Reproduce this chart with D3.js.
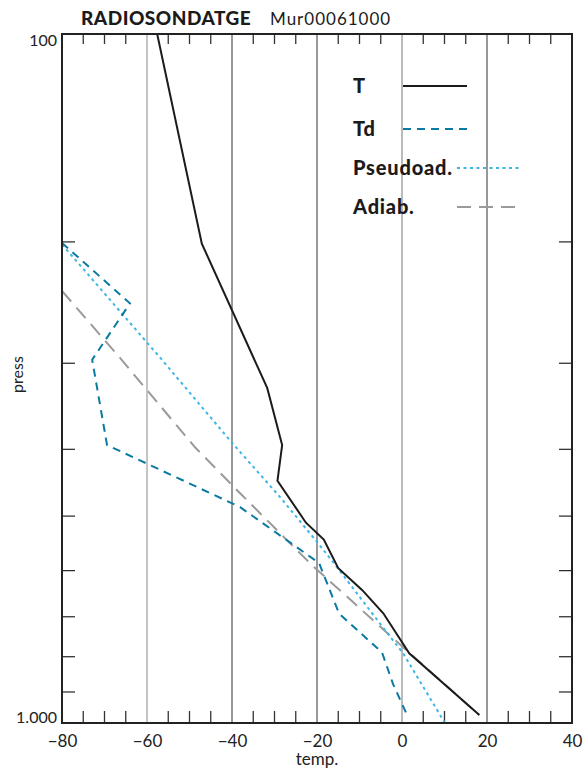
<!DOCTYPE html>
<html><head><meta charset="utf-8">
<script src="https://cdn.jsdelivr.net/npm/d3@7"></script>
<style>body{margin:0;background:#fff}svg{display:block}</style>
</head><body>
<svg id="c" width="588" height="769"></svg>
<script>
// ---- data ----
const title = "RADIOSONDATGE";
const station = "Mur00061000";
const tempTicks = [-80, -60, -40, -20, 0, 20, 40];
const tempMinor = [-75,-70,-65,-55,-50,-45,-35,-30,-25,-15,-10,-5,5,10,15,25,30,35];
const gridTemps = [-60, -40, -20, 0, 20];
const pressTicks = [200, 300, 400, 500, 600, 700, 800, 900];
const pressLabels = [{p:100, t:"100"}, {p:1000, t:"1.000"}];

// T (solid)
const tPress = [100, 201.5, 326.6, 395, 445, 512, 541.6, 596, 641, 693, 792, 974];
const tTemp  = [-57.6, -47.1, -31.7, -28.2, -29.3, -22.6, -18.4, -15.0, -9.4, -4.4, 1.7, 18.2];
// Td (dashed)
const tdPress = [201, 246, 297, 395, 486, 586, 694, 790, 878, 968];
const tdTemp  = [-80, -64, -72.9, -69.4, -38.1, -19.5, -14.8, -4.7, -2.1, 1.0];
// Pseudoadiabat (dotted)
const psPress = [202, 295, 392, 470, 546, 594, 740, 791, 1000];
const psTemp  = [-80, -56.9, -40, -28.7, -20, -15.3, -3.5, 0.2, 10.1];
// Dry adiabat (long dash)
const adPress = [236, 295, 398, 464, 590, 656, 776, 974];
const adTemp  = [-80, -66.4, -48.7, -38.1, -21.2, -12.9, 0.2, 18.2];

const legendItems = [
  {name:"T", key:"T"}, {name:"Td", key:"Td"},
  {name:"Pseudoad.", key:"PS"}, {name:"Adiab.", key:"AD"}
];

// ---- styles ----
const styles = {
  T:  {stroke:"#1b1b1b", dash:null,   w:2},
  Td: {stroke:"#0a7aa3", dash:"8,6",  w:2},
  PS: {stroke:"#3db6e4", dash:"3,3.5",w:2},
  AD: {stroke:"#9a9a9a", dash:"14,8", w:2}
};
const gridColor = {"-60":"#8a8a8a", "-40":"#333", "-20":"#333", "0":"#777", "20":"#333"};
const FONT = "Lato, 'Open Sans', sans-serif";

const L = 62, R = 572, T = 34, B = 723;
const svg = d3.select("#c");
const x = d3.scaleLinear().domain([-80, 40]).range([L, R]);
const y = d3.scaleLog().domain([100, 1000]).range([T, B]);

svg.append("clipPath").attr("id","clip").append("rect")
  .attr("x",L).attr("y",T).attr("width",R-L).attr("height",B-T);

// gridlines
svg.append("g").selectAll("line").data(gridTemps).join("line")
  .attr("x1",d=>x(d)).attr("x2",d=>x(d)).attr("y1",T).attr("y2",B)
  .attr("stroke",d=>gridColor[String(d)]).attr("stroke-width",1);

// minor x ticks (inward)
const tg = svg.append("g").attr("stroke","#333").attr("stroke-width",1.3);
tg.selectAll("line.b").data(tempMinor).join("line").attr("class","b")
  .attr("x1",d=>x(d)).attr("x2",d=>x(d)).attr("y1",B).attr("y2",B-12);
tg.selectAll("line.t").data(tempMinor).join("line").attr("class","t")
  .attr("x1",d=>x(d)).attr("x2",d=>x(d)).attr("y1",T).attr("y2",T+10);

function styleTicks(g){
  g.select(".domain").remove();
  g.selectAll("text").remove();
  g.selectAll(".tick line").attr("stroke","#222").attr("stroke-width",1.2);
}
// y ticks (inward)
svg.append("g").attr("transform",`translate(${L},0)`)
  .call(d3.axisLeft(y).tickValues(pressTicks).tickSize(-13)).call(styleTicks);
svg.append("g").attr("transform",`translate(${R},0)`)
  .call(d3.axisRight(y).tickValues(pressTicks).tickSize(-13)).call(styleTicks);

// bottom axis labels
const xAxis = d3.axisBottom(x).tickValues(tempTicks).tickSize(0).tickPadding(0);
const gx = svg.append("g").attr("transform",`translate(0,${B})`).call(xAxis);
gx.select(".domain").remove();
gx.selectAll("line").remove();
gx.selectAll("text").attr("y",24).attr("dy",0).attr("font-size",17)
  .attr("font-family",FONT).attr("fill","#222");

// y labels
svg.append("g").selectAll("text").data(pressLabels).join("text")
  .attr("x",57).attr("y",(d,i)=> i===0 ? y(d.p)+12 : y(d.p))
  .attr("text-anchor","end").attr("font-size",16).attr("font-family",FONT)
  .attr("fill","#222").text(d=>d.t);

// lines
const line = d3.line().x(d=>x(d[1])).y(d=>y(d[0]));
const series = [
  {key:"AD", p:adPress, t:adTemp},
  {key:"PS", p:psPress, t:psTemp},
  {key:"Td", p:tdPress, t:tdTemp},
  {key:"T",  p:tPress,  t:tTemp}
];
const gl = svg.append("g").attr("clip-path","url(#clip)");
series.forEach(s=>{
  const st = styles[s.key];
  gl.append("path").datum(d3.zip(s.p, s.t)).attr("d",line)
    .attr("fill","none").attr("stroke",st.stroke).attr("stroke-width",st.w)
    .attr("stroke-dasharray",st.dash);
});

// frame
svg.append("rect").attr("x",L).attr("y",T).attr("width",R-L).attr("height",B-T)
  .attr("fill","none").attr("stroke","#222").attr("stroke-width",2);

// titles
svg.append("text").attr("x",81).attr("y",25).attr("font-family",FONT)
  .attr("font-weight",900).attr("font-size",19).attr("letter-spacing",0.5)
  .attr("fill","#1b1b1b").text(title);
svg.append("text").attr("x",270).attr("y",25).attr("font-family",FONT)
  .attr("font-size",17).attr("letter-spacing",1).attr("fill","#1b1b1b").text(station);

// axis titles
svg.append("text").attr("x",x(-20)).attr("y",765).attr("text-anchor","middle")
  .attr("font-family",FONT).attr("font-size",17).attr("fill","#222").text("temp.");
svg.append("text").attr("transform",`translate(23,${(T+B)/2-4}) rotate(-90)`)
  .attr("text-anchor","middle").attr("font-family",FONT).attr("font-size",16)
  .attr("fill","#222").text("press");

// legend
const legY = [86, 129, 168, 207];
const legLine = [[403,467],[403,467],[457,521],[457,517]];
const lg = svg.append("g");
legendItems.forEach((it,i)=>{
  const st = styles[it.key];
  lg.append("text").attr("x",353).attr("y",legY[i]+7).attr("font-family",FONT)
    .attr("font-weight",900).attr("font-size",20).attr("letter-spacing",0.8)
    .attr("fill","#1b1b1b").text(it.name);
  lg.append("line").attr("x1",legLine[i][0]).attr("x2",legLine[i][1])
    .attr("y1",legY[i]).attr("y2",legY[i]).attr("stroke",st.stroke)
    .attr("stroke-width",st.w).attr("stroke-dasharray",st.dash);
});
</script>
</body></html>
